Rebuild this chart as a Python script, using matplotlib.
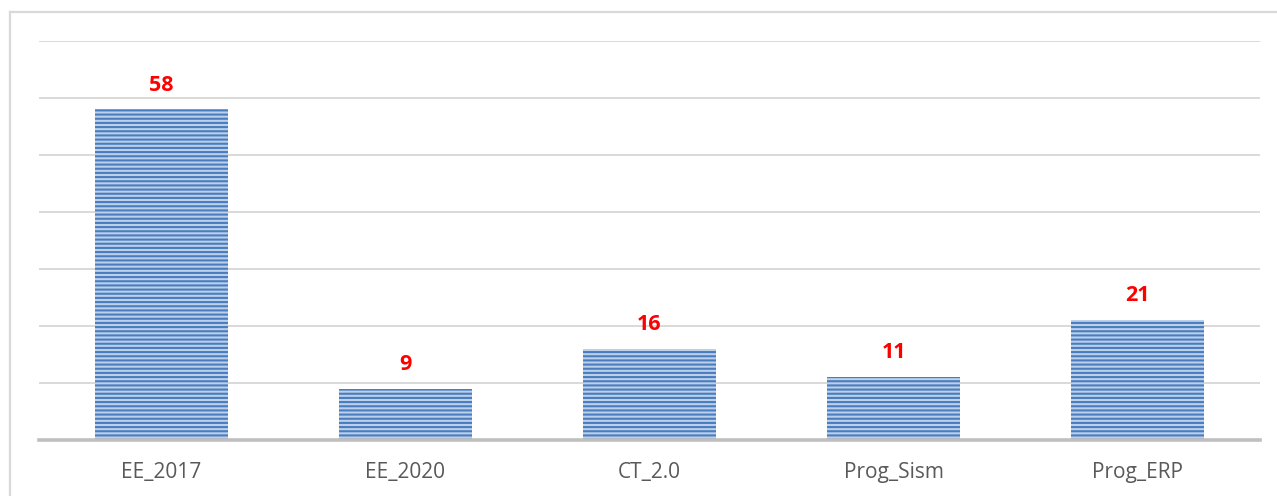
import matplotlib
matplotlib.use("Agg")
import matplotlib.pyplot as plt
from matplotlib.lines import Line2D

categories = ["EE_2017", "EE_2020", "CT_2.0", "Prog_Sism", "Prog_ERP"]
values = [58, 9, 16, 11, 21]

W, H = 1277, 496
DPI = 100
plt.rcParams["hatch.linewidth"] = 1.5
plt.rcParams["font.family"] = ["Open Sans", "DejaVu Sans"]

fig = plt.figure(figsize=(W / DPI, H / DPI), dpi=DPI)
fig.patch.set_facecolor("white")

# chart-area frame (top and left edges)
frame_col = "#d9d9d9"
fig.add_artist(Line2D([9.5 / W, 9.5 / W], [0, 1 - 11.5 / H], transform=fig.transFigure,
                      color=frame_col, lw=1.6))
fig.add_artist(Line2D([9.5 / W, 1.0], [1 - 11.5 / H, 1 - 11.5 / H], transform=fig.transFigure,
                      color=frame_col, lw=1.6))

left, right, top, bottom = 39, 1260, 41, 440
ax = fig.add_axes([left / W, 1 - bottom / H, (right - left) / W, (bottom - top) / H])
ax.set_xlim(-0.5, len(categories) - 0.5)
ax.set_ylim(0, 70)
ax.set_yticks(range(0, 71, 10))
ax.yaxis.grid(True, color="#d9d9d9", lw=1.4)
ax.set_axisbelow(True)
ax.tick_params(axis="y", length=0, labelleft=False)
ax.tick_params(axis="x", length=0, pad=16, labelsize=15, labelcolor="#595959")
for s in ax.spines.values():
    s.set_visible(False)

x = list(range(len(categories)))
bars = ax.bar(x, values, width=0.545, color="#bcd0ea", edgecolor="#4a7dbf",
              linewidth=0, hatch="----", zorder=2)
ax.axhline(0, color="#bfbfbf", lw=2.6, zorder=3, clip_on=False)

ax.set_xticks(x)
ax.set_xticklabels(categories)
ax.bar_label(bars, labels=[str(v) for v in values], padding=10, color="#ff0000",
             fontsize=15.5, fontweight="bold")

fig.savefig("out.png", dpi=DPI, facecolor="white")
